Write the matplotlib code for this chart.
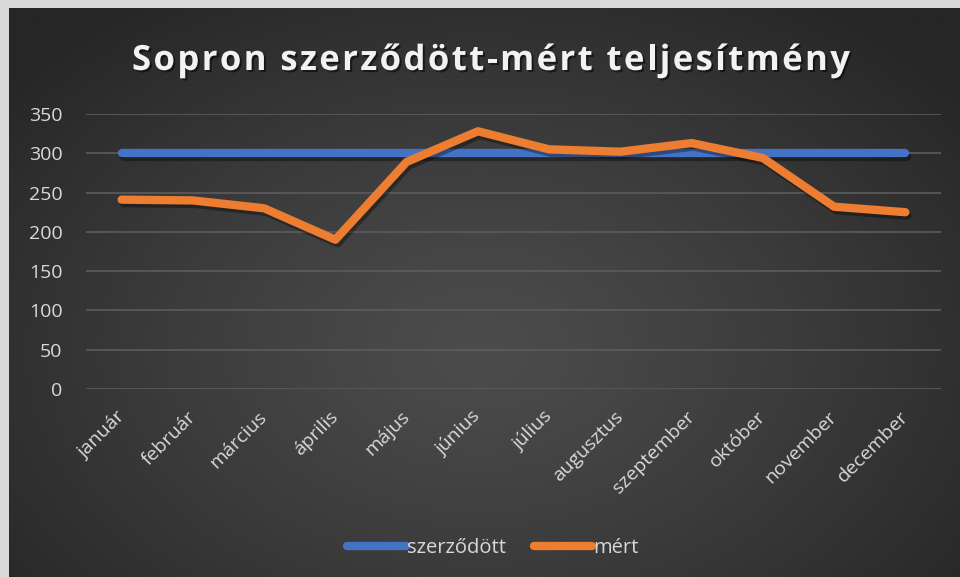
import numpy as np
import matplotlib
matplotlib.use("Agg")
import matplotlib.pyplot as plt
import matplotlib.patheffects as pe
from matplotlib import font_manager
from matplotlib.ft2font import FT2Font
from matplotlib.lines import Line2D

months = ["január", "február", "március", "április", "május", "június",
          "július", "augusztus", "szeptember", "október", "november", "december"]
szerzodott = [300, 300, 300, 300, 300, 300, 300, 300, 300, 300, 300, 300]
mert = [241, 240, 230, 190, 289, 328, 305, 302, 313, 294, 232, 225]
yticks = [0, 50, 100, 150, 200, 250, 300, 350]
title = "Sopron szerződött-mért teljesítmény"
series_names = ["szerződött", "mért"]

W, H = 960, 577
DPI = 100
FONT = "Open Sans"
plt.rcParams['font.family'] = [FONT, 'DejaVu Sans']

fig = plt.figure(figsize=(W / DPI, H / DPI), dpi=DPI, facecolor="#d9d9d9")

# background with radial gradient
L, T = 9, 8
bg = fig.add_axes([L / W, 0, (W - L) / W, (H - T) / H])
bg.set_axis_off()
nx, ny = 400, 240
xs = np.linspace(L, W, nx)
ys = np.linspace(T, H, ny)
X, Y = np.meshgrid(xs, ys)
cx, cy, rx, ry = 480, 350, 620, 430
r = np.sqrt(((X - cx) / rx) ** 2 + ((Y - cy) / ry) ** 2)
t = np.clip(r, 0, 1) ** 1.2
c_center = np.array([76, 76, 76]) / 255
c_edge = np.array([38, 38, 38]) / 255
img = c_center[None, None, :] * (1 - t[..., None]) + c_edge[None, None, :] * t[..., None]
bg.imshow(img, aspect="auto", extent=[0, 1, 0, 1], origin="upper")
bg.set_xlim(0, 1)
bg.set_ylim(0, 1)

# main axes
x0, x1 = 86, 941
ytop, ybot = 114, 389
ax = fig.add_axes([x0 / W, 1 - ybot / H, (x1 - x0) / W, (ybot - ytop) / H])
ax.patch.set_alpha(0)
for s in ax.spines.values():
    s.set_visible(False)
x = np.arange(len(months))
ax.set_xlim(-0.5, len(months) - 0.5)
ax.set_ylim(0, 350)
ax.set_yticks(yticks)
ax.yaxis.grid(True, color="#5c5c5c", lw=1.2)
ax.set_axisbelow(True)
ax.tick_params(axis="y", length=0, pad=17, labelsize=14, labelcolor="#d9d9d9")
ax.tick_params(axis="x", length=0, pad=18, labelsize=14, labelcolor="#d9d9d9")
ax.set_xticks(x)
ax.set_xticklabels(months, rotation=45, ha="right", va="center", rotation_mode="anchor")

shadow = [pe.SimpleLineShadow(offset=(1.5, -2.5), shadow_color="black", alpha=0.35), pe.Normal()]
LW = 6.0
ax.plot(x, szerzodott, color="#4472C4", lw=LW, solid_capstyle="round",
        solid_joinstyle="round", path_effects=shadow, zorder=3)
ax.plot(x, mert, color="#ED7D31", lw=LW, solid_capstyle="round",
        solid_joinstyle="round", path_effects=shadow, zorder=4)

# legend
handles = [Line2D([], [], color="#4472C4", lw=LW, solid_capstyle="round"),
           Line2D([], [], color="#ED7D31", lw=LW, solid_capstyle="round")]
leg = fig.legend(handles, series_names, loc="center", bbox_to_anchor=(493 / W, 1 - 548 / H),
                 ncol=2, frameon=False, fontsize=14.5, handlelength=2.9, handletextpad=0.05,
                 columnspacing=1.4, labelcolor="#d9d9d9")

# title with letter spacing
fsize = 25
prop = font_manager.FontProperties(family=FONT, weight="bold", size=fsize)
fpath = font_manager.findfont(prop)
ft = FT2Font(fpath)
ft.set_size(fsize, DPI)
adv = []
for ch in title:
    g = ft.load_char(ord(ch))
    adv.append(g.linearHoriAdvance / 65536)
natural = sum(adv)
target_left, target_right = 132, 850
sp = ((target_right - target_left) - natural) / (len(title) - 1)
xpos = target_left
base_y = 1 - 70 / H
tshadow = [pe.withSimplePatchShadow(offset=(1.5, -1.5), shadow_rgbFace="black", alpha=0.5)]
for ch, a in zip(title, adv):
    if ch != " ":
        fig.text(xpos / W, base_y, ch, fontproperties=prop, color="#f2f2f2",
                 ha="left", va="baseline", path_effects=tshadow)
    xpos += a + sp

fig.savefig("out.png", dpi=DPI, facecolor=fig.get_facecolor())
